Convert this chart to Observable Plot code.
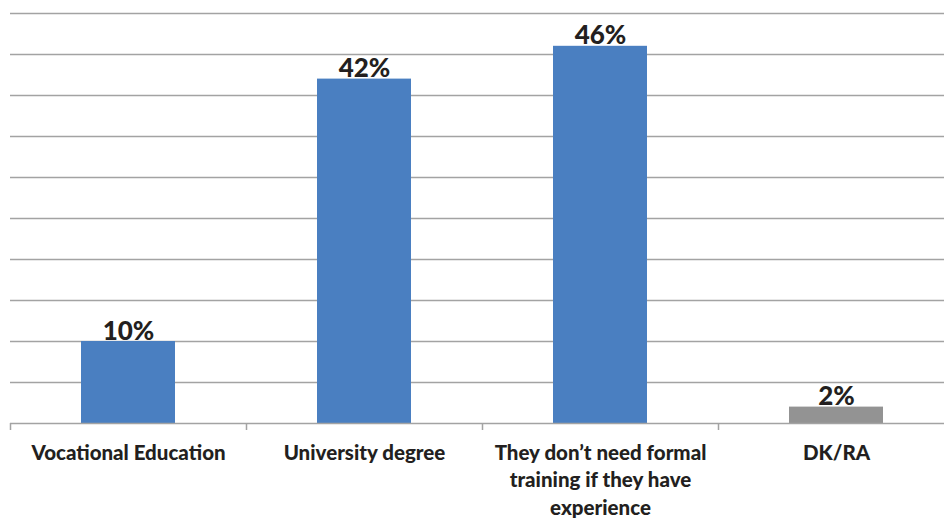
<!DOCTYPE html>
<html>
<head>
<meta charset="utf-8">
<script src="https://cdn.jsdelivr.net/npm/d3@7"></script>
<script src="https://cdn.jsdelivr.net/npm/@observablehq/plot@0.6"></script>
<style>
  html, body { margin: 0; padding: 0; background: #fff; }
  #chart svg { display: block; }
</style>
</head>
<body>
<div id="chart"></div>
<script>
const categories = [
  "Vocational Education",
  "University degree",
  "They don’t need formal training if they have experience",
  "DK/RA"
];
const tickLabels = [
  "Vocational Education",
  "University degree",
  "They don’t need formal\ntraining if they have\nexperience",
  "DK/RA"
];
const values = [10, 42, 46, 2];
const valueLabels = ["10%", "42%", "46%", "2%"];
const barColors = ["#4a7fc1", "#4a7fc1", "#4a7fc1", "#939393"];
const gridTicks = [5, 10, 15, 20, 25, 30, 35, 40, 45, 50];

const data = categories.map((c, i) => ({
  category: c, value: values[i], label: valueLabels[i], color: barColors[i]
}));
const labelOf = new Map(categories.map((c, i) => [c, tickLabels[i]]));

const font = "Lato, 'Open Sans', sans-serif";

const chart = Plot.plot({
  width: 944,
  height: 518,
  marginTop: 13,
  marginBottom: 95,
  marginLeft: 10,
  marginRight: 0,
  style: { fontFamily: font, background: "#fff", color: "#231f20" },
  x: { domain: categories, range: [10, 954], padding: 0, axis: null },
  y: { domain: [0, 50], axis: null },
  marks: [
    Plot.ruleY(gridTicks, { stroke: "#a3a3a3", strokeWidth: 1.5 }),
    Plot.barY(data, {
      x: "category", y: "value", fill: "color",
      insetLeft: 71, insetRight: 71
    }),
    Plot.ruleY([0], { stroke: "#a3a3a3", strokeWidth: 1.5 }),
    Plot.axisX({
      tickSize: 7, dx: -118, text: null, label: null,
      stroke: "#a3a3a3", strokeWidth: 1.5
    }),
    Plot.axisX({
      tickSize: 0, tickPadding: 17, label: null,
      tickFormat: (d) => labelOf.get(d),
      fontSize: 20.5, fontWeight: 900, lineHeight: 1.34,
      fill: "#231f20"
    }),
    Plot.text(data, {
      x: "category", y: "value", text: "label",
      lineAnchor: "bottom", dy: -2,
      fontSize: 26, fontWeight: 900, fill: "#231f20"
    })
  ]
});
document.getElementById("chart").appendChild(chart);
</script>
</body>
</html>
